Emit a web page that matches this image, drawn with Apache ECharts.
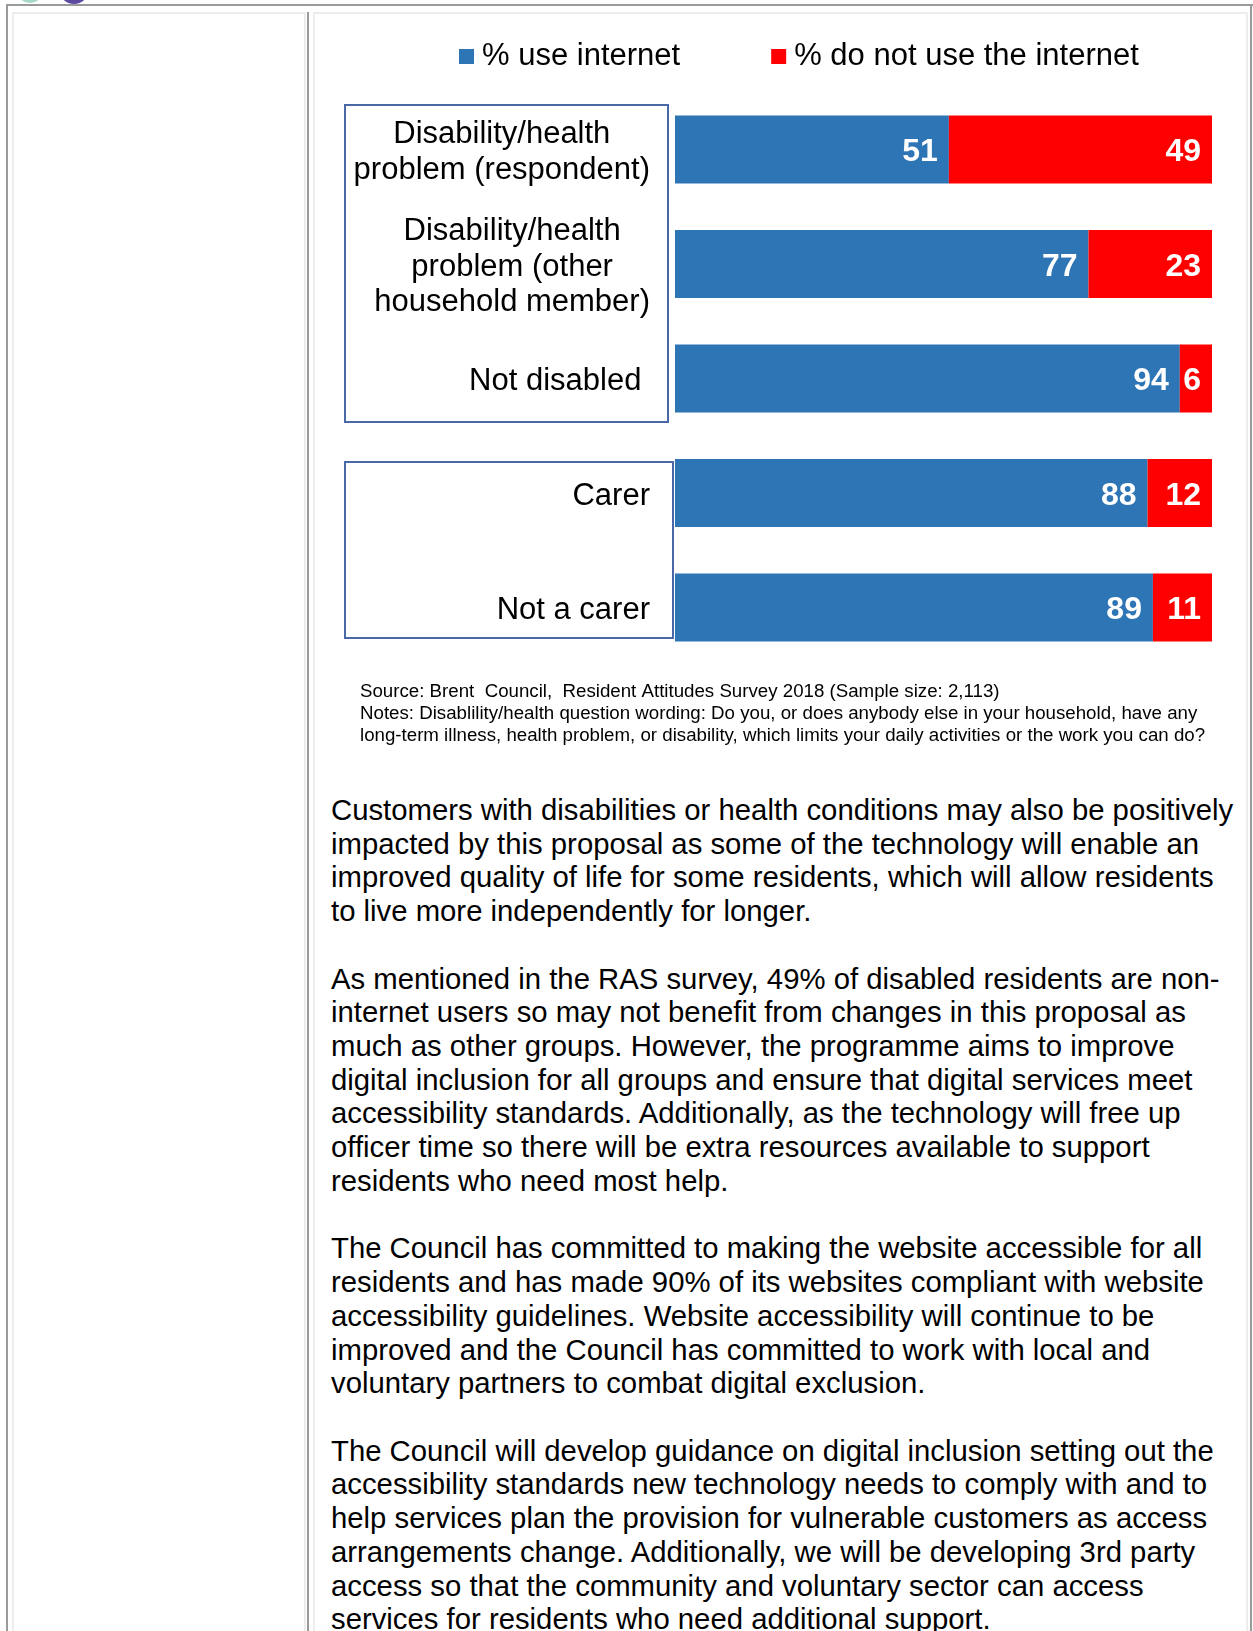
<!DOCTYPE html>
<html>
<head>
<meta charset="utf-8">
<title>Internet use by disability and caring status</title>
<script src="https://cdn.jsdelivr.net/npm/echarts@6/dist/echarts.min.js"></script>
<style>
  html, body { margin: 0; padding: 0; background: #fff; }
  body { width: 1253px; height: 1631px; overflow: hidden; position: relative;
         font-family: "Liberation Sans", Arial, sans-serif; color: #000; }
  .rule { position: absolute; }
  .dark { background: #9a9a9a; }
  .light { background: #ededed; }
  .logo { position: absolute; border-radius: 50%; }
  #chart { position: absolute; left: 0; top: 0; width: 1253px; height: 760px; }
  #body-text { position: absolute; left: 331px; top: 793px; font-size: 29.3px;
               line-height: 33.72px; white-space: nowrap; }
  #body-text p { margin: 0 0 33.72px 0; }
</style>
</head>
<body>
<!-- logo edges peeking in above the table -->
<div class="logo" style="left:16px;top:-26px;width:28px;height:29px;background:#a8d8c6;"></div>
<div class="logo" style="left:59px;top:-26px;width:30px;height:30px;background:#5b4aa0;"></div>

<!-- table frame -->
<div class="rule dark" style="left:6px;top:4px;width:1247px;height:2px;"></div>
<div class="rule dark" style="left:6px;top:4px;width:2px;height:1627px;"></div>
<div class="rule dark" style="left:1250px;top:4px;width:2px;height:1627px;"></div>
<div class="rule light" style="left:12px;top:12px;width:294px;height:2px;"></div>
<div class="rule light" style="left:12px;top:12px;width:2px;height:1619px;"></div>
<div class="rule light" style="left:304px;top:12px;width:2px;height:1619px;"></div>
<div class="rule dark" style="left:307px;top:12px;width:2px;height:1619px;"></div>
<div class="rule light" style="left:313px;top:12px;width:933px;height:2px;"></div>
<div class="rule light" style="left:313px;top:12px;width:2px;height:1619px;"></div>
<div class="rule light" style="left:1246px;top:12px;width:2px;height:1619px;"></div>

<div id="chart"></div>

<div id="body-text">
<p>Customers with disabilities or health conditions may also be positively<br>impacted by this proposal as some of the technology will enable an<br>improved quality of life for some residents, which will allow residents<br>to live more independently for longer.</p>
<p>As mentioned in the RAS survey, 49% of disabled residents are non-<br>internet users so may not benefit from changes in this proposal as<br>much as other groups. However, the programme aims to improve<br>digital inclusion for all groups and ensure that digital services meet<br>accessibility standards. Additionally, as the technology will free up<br>officer time so there will be extra resources available to support<br>residents who need most help.</p>
<p>The Council has committed to making the website accessible for all<br>residents and has made 90% of its websites compliant with website<br>accessibility guidelines. Website accessibility will continue to be<br>improved and the Council has committed to work with local and<br>voluntary partners to combat digital exclusion.</p>
<p>The Council will develop guidance on digital inclusion setting out the<br>accessibility standards new technology needs to comply with and to<br>help services plan the provision for vulnerable customers as access<br>arrangements change. Additionally, we will be developing 3rd party<br>access so that the community and voluntary sector can access<br>services for residents who need additional support.</p>
</div>

<script>
// Resident groups, top to bottom
const categories = [
  'Disability/health\nproblem (respondent)',
  'Disability/health\nproblem (other\nhousehold member)',
  'Not disabled ',
  'Carer',
  'Not a carer'
];
const seriesNames = ['% use internet', '% do not use the internet'];
const useInternet = [51, 77, 94, 88, 89];
const noInternet = [49, 23, 6, 12, 11];
const sourceLines = [
  'Source: Brent  Council,  Resident Attitudes Survey 2018 (Sample size: 2,113)',
  'Notes: Disablility/health question wording: Do you, or does anybody else in your household, have any',
  'long-term illness, health problem, or disability, which limits your daily activities or the work you can do?'
];

const BLUE = '#2E75B6';
const RED = '#FF0000';
const FONT = '"Liberation Sans", Arial, sans-serif';

const chart = echarts.init(document.getElementById('chart'), null, { renderer: 'canvas' });

const valueLabel = {
  show: true,
  position: 'insideRight',
  distance: 11,
  offset: [0, 3],
  color: '#fff',
  fontFamily: FONT,
  fontWeight: 'bold',
  fontSize: 32
};

chart.setOption({
  animation: false,
  textStyle: { fontFamily: FONT },
  legend: {
    data: seriesNames,
    left: 454,
    top: 36,
    icon: 'rect',
    itemWidth: 15,
    itemHeight: 15,
    itemGap: 91,
    textStyle: { fontSize: 31, color: '#000', fontFamily: FONT, lineHeight: 31, padding: [0, 0, 0, 3] }
  },
  grid: { left: 675, top: 92.25, width: 537, height: 572.5, containLabel: false },
  xAxis: { type: 'value', min: 0, max: 100, show: false },
  yAxis: {
    type: 'category',
    inverse: true,
    data: categories,
    axisLine: { show: false },
    axisTick: { show: false },
    splitLine: { show: false },
    axisLabel: {
      margin: 25,
      align: 'right',
      padding: [6, 0, 0, 0],
      formatter: function (v) {
        return v.split('\n').map(function (line) { return '{c|' + line + '}'; }).join('\n');
      },
      rich: {
        c: { align: 'center', fontSize: 31, lineHeight: 35.5, color: '#000', fontFamily: FONT }
      }
    }
  },
  series: [
    {
      name: seriesNames[0], type: 'bar', stack: 'share', data: useInternet,
      barWidth: 68, itemStyle: { color: BLUE }, label: valueLabel
    },
    {
      name: seriesNames[1], type: 'bar', stack: 'share', data: noInternet,
      barWidth: 68, itemStyle: { color: RED }, label: valueLabel
    }
  ],
  graphic: [
    // frames grouping the disability and carer categories
    { type: 'rect', shape: { x: 345, y: 105, width: 323, height: 317 },
      style: { fill: 'none', stroke: '#4A67A8', lineWidth: 2 }, silent: true },
    { type: 'rect', shape: { x: 345, y: 462, width: 328, height: 176 },
      style: { fill: 'none', stroke: '#4A67A8', lineWidth: 2 }, silent: true },
    { type: 'text', left: 360, top: 681,
      style: { text: sourceLines.join('\n'), fontSize: 18.7, lineHeight: 21.8,
               fill: '#000', fontFamily: FONT } }
  ]
});
</script>
</body>
</html>
